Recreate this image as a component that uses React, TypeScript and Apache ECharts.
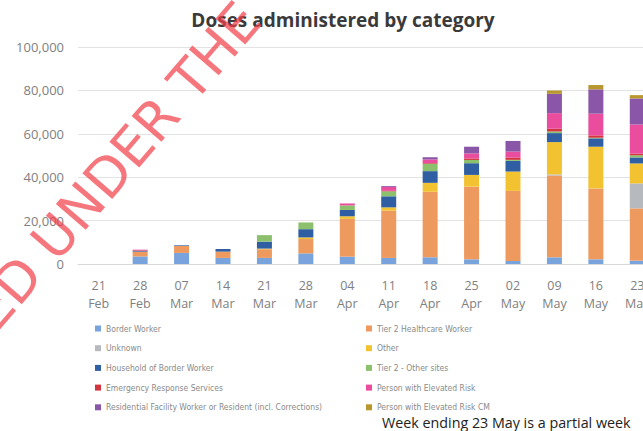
import React, { useEffect, useRef } from "react";
import * as echarts from "echarts";

const categories = ["21\nFeb", "28\nFeb", "07\nMar", "14\nMar", "21\nMar", "28\nMar", "04\nApr", "11\nApr", "18\nApr", "25\nApr", "02\nMay", "09\nMay", "16\nMay", "23\nMay"];

const borderWorker = [0, 3500, 5100, 2800, 2800, 4900, 3400, 2800, 3100, 2150, 1400, 3070, 2150, 1540];
const tier2Healthcare = [0, 2200, 3200, 2900, 4000, 6600, 17400, 21800, 30200, 33500, 32300, 37700, 32700, 24100];
const unknown = [0, 0, 0, 0, 0, 0, 0, 0, 0, 0, 0, 500, 0, 11500];
const other = [0, 0, 0, 0, 300, 750, 1200, 1500, 4100, 5400, 8900, 14900, 19200, 9200];
const householdBorder = [0, 400, 300, 1200, 3200, 3800, 2900, 5100, 5400, 5400, 4900, 4150, 3850, 2770];
const tier2Other = [0, 0, 0, 0, 3000, 3100, 2100, 2300, 3400, 1500, 500, 770, 300, 1000];
const emergency = [0, 200, 0, 0, 0, 0, 0, 200, 300, 700, 1000, 1230, 1075, 770];
const elevatedRisk = [0, 300, 0, 0, 0, 0, 900, 1800, 1700, 2300, 2800, 7200, 10000, 13400];
const residential = [0, 0, 0, 0, 0, 0, 0, 400, 1000, 3100, 4900, 8900, 11200, 12000];
const elevatedRiskCM = [0, 0, 0, 0, 0, 0, 0, 0, 0, 0, 0, 1540, 2000, 1540];

const seriesDefs = [
  { name: "Border Worker", data: borderWorker, color: "#78a3dc" },
  { name: "Tier 2 Healthcare Worker", data: tier2Healthcare, color: "#ee9a5e" },
  { name: "Unknown", data: unknown, color: "#b6b9be" },
  { name: "Other", data: other, color: "#f2c230" },
  { name: "Household of Border Worker", data: householdBorder, color: "#2f5fa2" },
  { name: "Tier 2 - Other sites", data: tier2Other, color: "#8cc06c" },
  { name: "Emergency Response Services", data: emergency, color: "#d3343e" },
  { name: "Person with Elevated Risk", data: elevatedRisk, color: "#ea4c9e" },
  { name: "Residential Facility Worker or Resident (incl. Corrections)", data: residential, color: "#8a56a8" },
  { name: "Person with Elevated Risk CM", data: elevatedRiskCM, color: "#b8982e" },
];

const leftLegend = seriesDefs.filter((_, i) => i % 2 === 0).map((s) => s.name);
const rightLegend = seriesDefs.filter((_, i) => i % 2 === 1).map((s) => s.name);

export default function App() {
  const ref = useRef<HTMLDivElement>(null);
  useEffect(() => {
    const chart = echarts.init(ref.current!, null, { renderer: "svg" });
    const legendText = { fontSize: 8.5, color: "#8a8a8a", fontFamily: "'Liberation Sans Narrow', 'DejaVu Sans Condensed', Lato, sans-serif", lineHeight: 11 };
    chart.setOption({
      animation: false,
      backgroundColor: "#ffffff",
      title: {
        text: "Doses administered by category",
        left: 338,
        textAlign: "center",
        top: 5,
        textStyle: { fontSize: 19, fontWeight: "bold", color: "#3a3a3a", fontFamily: "'Open Sans', sans-serif" },
      },
      grid: { left: 78, width: 580, top: 47, bottom: 167, containLabel: false },
      xAxis: {
        type: "category",
        data: categories,
        axisLine: { lineStyle: { color: "#d9d9d9" } },
        axisTick: { show: false },
        axisLabel: { color: "#808080", fontSize: 12.5, lineHeight: 18, margin: 12, fontFamily: "'Open Sans', sans-serif", interval: 0 },
      },
      yAxis: {
        type: "value",
        min: 0,
        max: 100000,
        interval: 20000,
        axisLine: { show: false },
        axisTick: { show: false },
        splitLine: { lineStyle: { color: "#e3e3e3", width: 1 } },
        axisLabel: {
          color: "#808080",
          fontSize: 13,
          margin: 14,
          fontFamily: "'Open Sans', sans-serif",
          formatter: (v: number) => v.toLocaleString("en-US"),
        },
      },
      legend: [
        { data: leftLegend, orient: "vertical", left: 95, top: 323, itemWidth: 6, itemHeight: 6, itemGap: 8.7, itemTextGap: 3, icon: "rect", textStyle: legendText, selectedMode: false, padding: 0 },
        { data: rightLegend, orient: "vertical", left: 366, top: 323, itemWidth: 6, itemHeight: 6, itemGap: 8.7, itemTextGap: 3, icon: "rect", textStyle: legendText, selectedMode: false, padding: 0 },
      ],
      series: seriesDefs.map((s) => ({
        name: s.name,
        type: "bar",
        stack: "total",
        barWidth: 15,
        data: s.data,
        itemStyle: { color: s.color },
      })),
      graphic: [
        {
          type: "text",
          left: 382,
          top: 415,
          style: { text: "Week ending 23 May is a partial week", fontSize: 14.3, fill: "#222222", fontFamily: "'Open Sans', sans-serif" },
        },
        {
          type: "text",
          x: -18,
          y: 322,
          rotation: 0.86,
          z: 100,
          style: {
            text: "ED UNDER THE",
            fontSize: 54,
            fontWeight: "normal",
            fill: "rgba(242,60,70,0.7)",
            fontFamily: "'DejaVu Sans', sans-serif",
            textAlign: "left",
            textVerticalAlign: "middle",
          },
        },
      ],
    });
    return () => chart.dispose();
  }, []);
  return (
    <div style={{ width: 643, height: 431, position: "absolute", left: 0, top: 0, overflow: "hidden" }}>
      <div ref={ref} style={{ width: 665, height: 431, position: "absolute", left: 0, top: 0 }} />
    </div>
  );
}
